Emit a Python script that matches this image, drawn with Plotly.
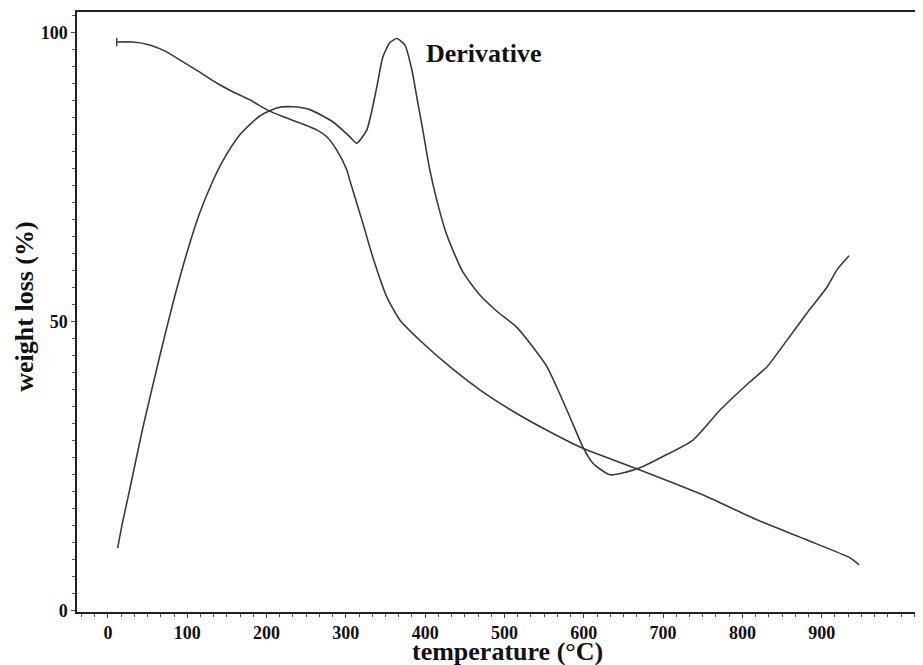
import plotly.graph_objects as go

# Derivative curve (temperature °C, value)
deriv_t = [12.2, 18.5, 27.4, 43.8, 65.3, 81.6, 99.3, 115.7, 132.1, 144.7, 166.1, 191.4, 212.8,
           233.0, 254.5, 283.5, 305.0, 313.8, 326.4, 339.0, 346.6, 355.5, 364.3, 374.3, 383.2,
           389.4, 397.0, 405.8, 414.7, 427.3, 447.5, 469.0, 490.4, 515.6, 535.8, 553.5, 566.1,
           582.5, 598.9, 611.5, 633.0, 654.4, 670.8, 696.1, 737.7, 771.8, 809.6, 831.1, 856.3,
           881.5, 906.8, 919.4, 934.5]
deriv_v = [10.8, 15.3, 20.9, 31.5, 44.0, 53.0, 61.8, 68.8, 74.3, 77.8, 82.3, 85.6, 87.0,
           87.2, 86.7, 84.6, 82.0, 80.9, 83.2, 90.6, 95.8, 98.3, 99.0, 97.9, 93.6,
           88.9, 83.2, 76.3, 71.0, 65.0, 58.6, 54.6, 51.8, 49.0, 45.6, 42.2, 38.6,
           33.5, 28.3, 25.5, 23.5, 24.0, 24.7, 26.4, 29.5, 34.7, 39.6, 42.2, 46.8,
           51.5, 56.0, 59.0, 61.4]

# Weight loss (TGA) curve
tga_t = [11.1, 31.2, 52.6, 74.0, 94.2, 115.7, 137.1, 157.3, 178.8, 200.2, 220.4, 241.8,
         263.3, 275.9, 288.5, 301.1, 304.9, 321.3, 333.9, 351.6, 368.0, 397.0, 431.1,
         469.0, 510.6, 553.5, 595.1, 604.0, 670.8, 755.3, 818.4, 881.5, 935.8, 947.1]
tga_v = [98.4, 98.4, 97.9, 96.7, 95.0, 93.2, 91.3, 89.8, 88.4, 86.7, 85.5, 84.4,
         83.2, 82.0, 79.7, 76.3, 74.5, 67.1, 61.2, 54.3, 50.3, 46.3, 42.2,
         38.2, 34.5, 31.2, 28.3, 27.8, 24.3, 19.7, 15.7, 12.2, 9.1, 7.9]

x_ticks = [0, 100, 200, 300, 400, 500, 600, 700, 800, 900]
y_ticks = [0, 50, 100]

LINE = "#3a3a3a"
FONT = "Liberation Serif"

fig = go.Figure()
fig.add_trace(go.Scatter(x=deriv_t, y=deriv_v, mode="lines",
                         line=dict(color=LINE, width=1.6, shape="spline", smoothing=0.6),
                         showlegend=False))
fig.add_trace(go.Scatter(x=tga_t, y=tga_v, mode="lines",
                         line=dict(color=LINE, width=1.6, shape="spline", smoothing=0.6),
                         showlegend=False))
fig.add_trace(go.Scatter(x=tga_t[:1], y=tga_v[:1], mode="markers",
                         marker=dict(symbol="line-ns", size=6, line=dict(color=LINE, width=1.4)),
                         showlegend=False))

fig.add_annotation(x=474.8, y=96.4, text="<b>Derivative</b>", showarrow=False,
                   font=dict(family=FONT, size=26, color="#111"), xanchor="center", yanchor="middle")

fig.add_annotation(xref="paper", yref="paper", x=-0.062, y=0.508, text="<b>weight loss (%)</b>",
                   textangle=-90, showarrow=False, font=dict(family=FONT, size=26, color="#111"),
                   xanchor="center", yanchor="middle")
fig.add_annotation(xref="paper", yref="paper", x=0.509, y=-0.066,
                   text="<b>temperature (°C)</b>", showarrow=False,
                   font=dict(family=FONT, size=26, color="#111"), xanchor="center", yanchor="middle")

# page body adds an 8px margin; size the figure so the plot lands where the reference has it
fig.update_layout(
    width=915, height=657,
    margin=dict(l=69, r=0, t=4, b=53, autoexpand=False),
    paper_bgcolor="white", plot_bgcolor="white",
    xaxis=dict(range=[-39, 1027.7], tickvals=x_ticks, ticktext=[str(v) for v in x_ticks],
               showgrid=False, zeroline=False, showline=True, linecolor="#222", linewidth=1.5,
               mirror=True, ticks="outside", ticklen=4, tickcolor="#444", tickwidth=1,
               tickfont=dict(family=FONT, size=18, color="#111", weight="bold"),
               minor=dict(dtick=100 / 6, tick0=0, ticks="outside", ticklen=3, tickcolor="#555")),
    yaxis=dict(range=[-0.26, 103.6], tickvals=y_ticks, ticktext=[str(v) for v in y_ticks],
               showgrid=False, zeroline=False, showline=True, linecolor="#222", linewidth=1.5,
               ticks="outside", ticklen=4, tickcolor="#444", tickwidth=1,
               tickfont=dict(family=FONT, size=18, color="#111", weight="bold"),
               minor=dict(dtick=50 / 17, tick0=0, ticks="outside", ticklen=3, tickcolor="#555")),
)

fig.write_html("out.html")
